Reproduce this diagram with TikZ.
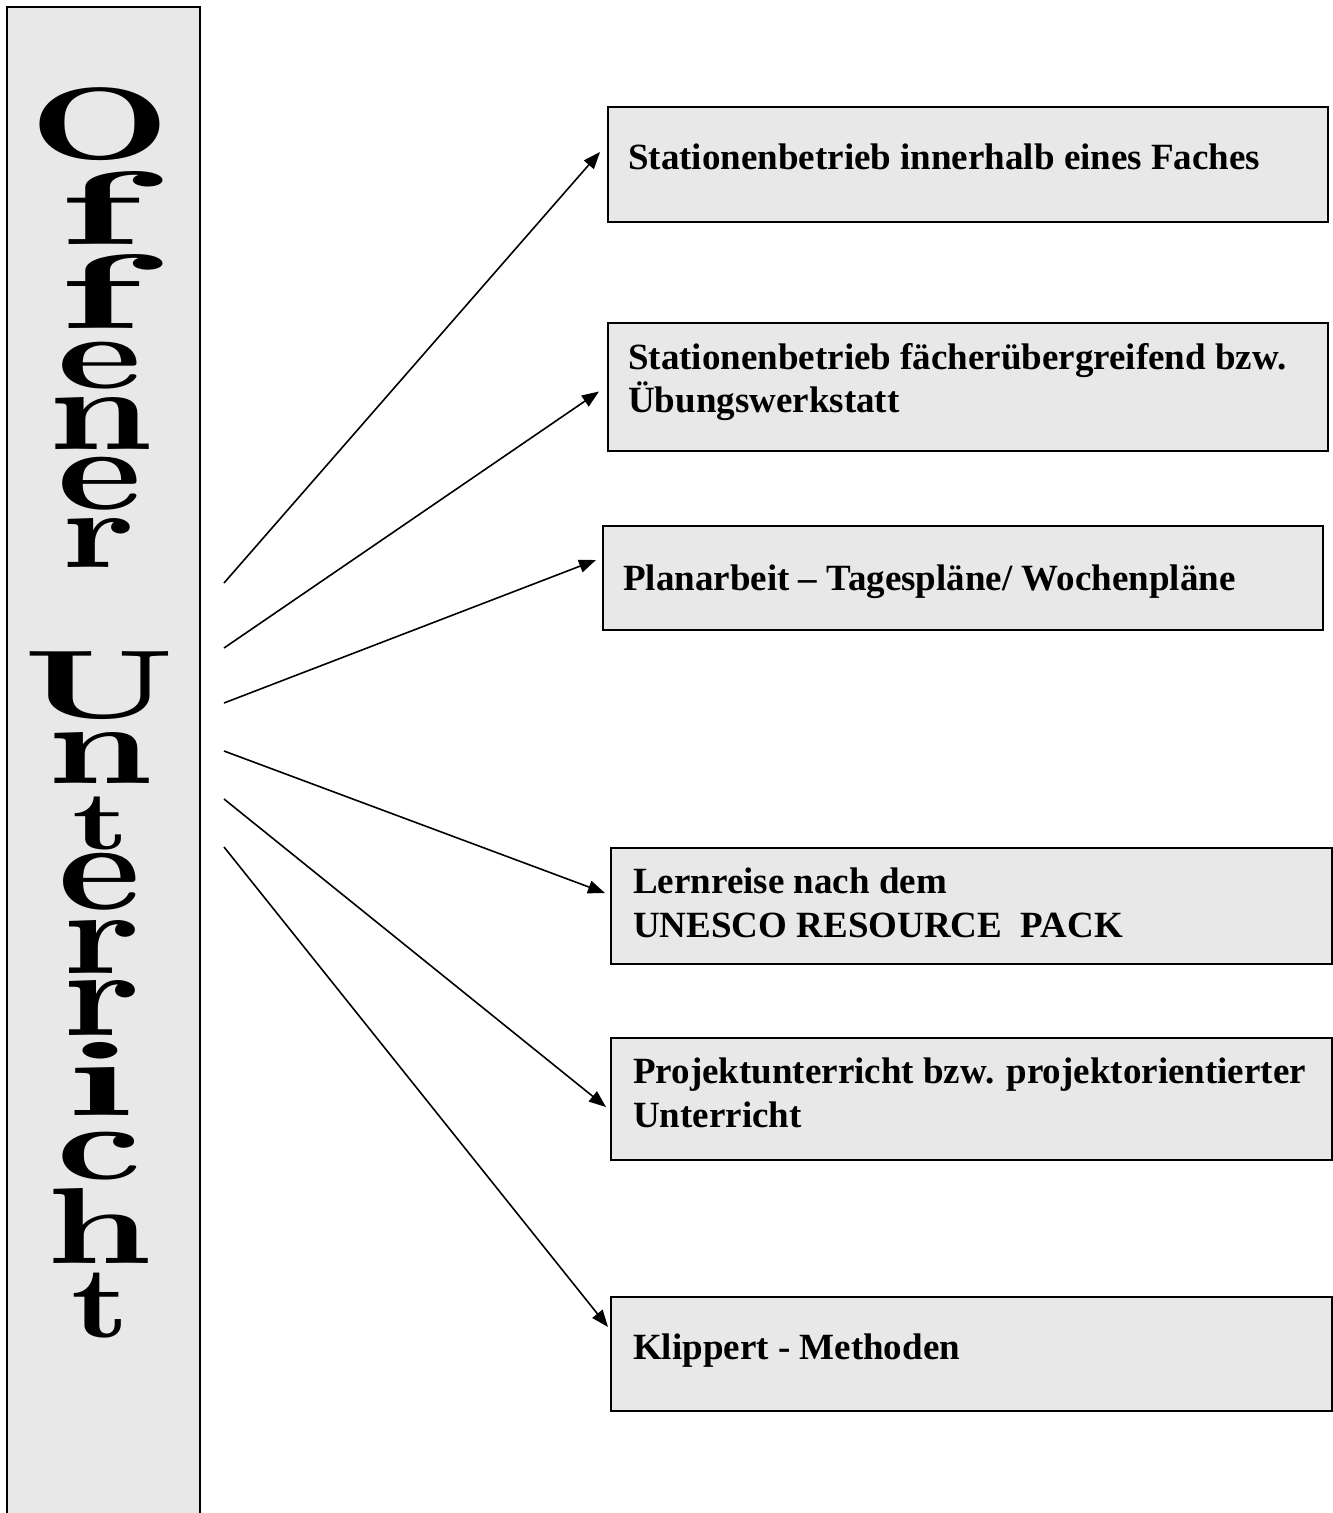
\documentclass[tikz,border=0pt]{standalone}
\usepackage{fontspec}
\newfontfamily\boxfont{Liberation Serif}
\usetikzlibrary{arrows.meta}
\definecolor{boxgray}{HTML}{E8E8E8}
\newcommand\wordletter[6]{\node[inner sep=0pt,outer sep=0pt] (#6) at ({(#1+#3)/2},{(#2+#4)/2}) {\resizebox*{\dimexpr (#3pt-#1pt)*11/10\relax}{\dimexpr #4pt-#2pt\relax}{\bfseries #5}};}
\begin{document}
\begin{tikzpicture}[x=1pt,y=-1pt,
  itembox/.style={draw=black, line width=1.5pt, fill=boxgray, anchor=north west, inner sep=0pt, outer sep=0pt},
  itemtext/.style={anchor=base west, inner sep=0pt, font=\boxfont\bfseries\fontsize{37}{44}\selectfont},
  arr/.style={-{Triangle[length=17pt,width=13pt]}, line width=1.6pt}]
\useasboundingbox[fill=white] (0,0) rectangle (1333,1513);
% left column
\fill[boxgray] (7,1520) -- (7,7) -- (200,7) -- (200,1520) -- cycle;
\draw[line width=1.8pt] (7,1520) -- (7,7) -- (200,7) -- (200,1520);
\wordletter{36}{88}{164}{161}{O}{L1}
\wordletter{61}{171}{138}{244}{f}{L2}
\wordletter{61}{254}{138}{328}{f}{L3}
\wordletter{61}{342}{138}{389}{e}{L4}
\wordletter{53}{397}{148}{449}{n}{L5}
\wordletter{61}{457}{138}{510}{e}{L6}
\wordletter{66}{518}{132}{567}{r}{L7}
\wordletter{30}{652}{168}{720}{U}{L8}
\wordletter{52}{732}{148}{783}{n}{L9}
\wordletter{75}{797}{127}{850}{t}{L10}
\wordletter{62}{853}{137}{910}{e}{L11}
\wordletter{67}{920}{137}{973}{r}{L12}
\wordletter{67}{980}{137}{1035}{r}{L13}
\wordletter{68}{1042}{133}{1115}{i}{L14}
\wordletter{60}{1132}{138}{1180}{c}{L15}
\wordletter{51}{1188}{147}{1263}{h}{L16}
\wordletter{74}{1273}{127}{1338}{t}{L17}
% boxes
\node[itembox, minimum width=720pt, minimum height=115pt] (b1) at (608,107) {};
\node[itembox, minimum width=720pt, minimum height=128pt] (b2) at (608,323) {};
\node[itembox, minimum width=720pt, minimum height=104pt] (b3) at (603,526) {};
\node[itembox, minimum width=721pt, minimum height=116pt] (b4) at (611,848) {};
\node[itembox, minimum width=721pt, minimum height=122pt] (b5) at (611,1038) {};
\node[itembox, minimum width=721pt, minimum height=114pt] (b6) at (611,1297) {};
% texts
\node[itemtext] (t1) at (628,169) {Stationenbetrieb innerhalb eines Faches};
\node[itemtext] (t2a) at (628,369) {Stationenbetrieb fächerübergreifend bzw.};
\node[itemtext] (t2b) at (628,412) {Übungswerkstatt};
\node[itemtext] (t3) at (623,590) {Planarbeit – Tagespläne/ Wochenpläne};
\node[itemtext] (t4a) at (633,893) {Lernreise nach dem};
\node[itemtext] (t4b) at (633,937) {UNESCO RESOURCE\ \ PACK};
\node[itemtext] (t5a) at (633,1083) {Projektunterricht bzw. projektorientierter};
\node[itemtext] (t5b) at (633,1127) {Unterricht};
\node[itemtext] (t6) at (633,1359) {Klippert - Methoden};
% arrow starts
\coordinate (s1) at (224,583);
\coordinate (s2) at (224,648);
\coordinate (s3) at (224,703);
\coordinate (s4) at (224,751);
\coordinate (s5) at (224,799);
\coordinate (s6) at (224,847);
% arrows
\draw[arr] (s1) -- ([xshift=-8pt,yshift=12.5pt]b1.west);
\draw[arr] (s2) -- ([xshift=-9pt,yshift=-4.5pt]b2.west);
\draw[arr] (s3) -- ([xshift=-7pt,yshift=18pt]b3.west);
\draw[arr] (s4) -- ([xshift=-6pt,yshift=13pt]b4.west);
\draw[arr] (s5) -- ([xshift=-5pt,yshift=-8pt]b5.west);
\draw[arr] (s6) -- ([xshift=-3pt,yshift=27pt]b6.west);
\end{tikzpicture}
\end{document}
